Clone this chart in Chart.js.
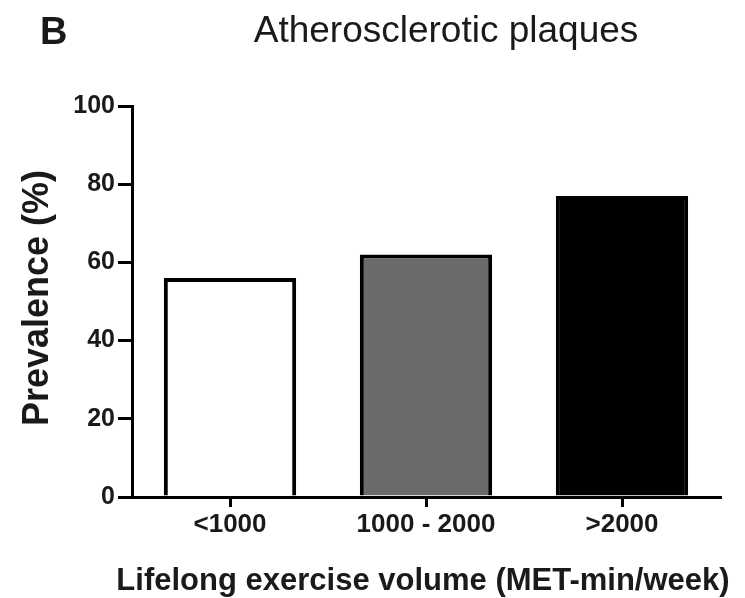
<!DOCTYPE html>
<html>
<head>
<meta charset="utf-8">
<script src="https://cdn.jsdelivr.net/npm/chart.js@4"></script>
<style>
  body { margin: 0; background: #fff; }
  #wrap { width: 745px; height: 598px; }
</style>
</head>
<body>
<div id="wrap"><canvas id="chart"></canvas></div>
<script>
// Data
const categories = ["<1000", "1000 - 2000", ">2000"];
const prevalence = [56, 62, 77];
const barColors = ["#ffffff", "#6b6b6b", "#000000"];
const yTicks = [0, 20, 40, 60, 80, 100];

const panelLabel = "B";
const chartTitle = "Atherosclerotic plaques";
const yTitle = "Prevalence (%)";
const xTitle = "Lifelong exercise volume (MET-min/week)";

const FONT = "'Liberation Sans', Arial, sans-serif";
const INK = "#1a1a1a";

// Texts drawn at fixed spots, like the figure
const labels = {
  id: "labels",
  afterDraw(chart) {
    const c = chart.ctx;
    c.save();
    c.fillStyle = INK;
    c.textBaseline = "alphabetic";

    c.font = "bold 38px " + FONT;
    c.textAlign = "left";
    c.fillText(panelLabel, 40, 44);

    c.font = "37px " + FONT;
    c.textAlign = "center";
    c.fillText(chartTitle, 446, 42);

    c.font = "bold 31px " + FONT;
    c.fillText(xTitle, 423, 590);

    c.translate(38, 298);
    c.rotate(-Math.PI / 2);
    c.font = "bold 36px " + FONT;
    c.textBaseline = "middle";
    c.fillText(yTitle, 0, 0);
    c.restore();
  }
};

new Chart(document.getElementById("chart"), {
  type: "bar",
  data: {
    labels: categories,
    datasets: [{
      data: prevalence,
      backgroundColor: barColors,
      borderColor: "#000",
      borderWidth: 4,
      barPercentage: 0.675,
      categoryPercentage: 1
    }]
  },
  options: {
    responsive: true,
    maintainAspectRatio: false,
    animation: false,
    layout: { padding: { top: 106, right: 25, left: 0, bottom: 0 } },
    plugins: { legend: { display: false }, tooltip: { enabled: false } },
    scales: {
      x: {
        z: 1,
        offset: true,
        grid: {
          offset: false,
          drawOnChartArea: false,
          drawTicks: true,
          tickLength: 10,
          color: "#000",
          lineWidth: 3
        },
        border: { display: true, color: "#000", width: 3 },
        ticks: {
          color: INK,
          font: { family: FONT, size: 26, weight: "bold" },
          padding: 2,
          maxRotation: 0,
          autoSkip: false
        },
        afterFit: s => { s.height = 101; }
      },
      y: {
        min: 0,
        max: 100,
        afterBuildTicks: s => { s.ticks = yTicks.map(v => ({ value: v })); },
        grid: {
          drawOnChartArea: false,
          drawTicks: true,
          tickLength: 14,
          color: "#000",
          lineWidth: 3
        },
        border: { display: true, color: "#000", width: 3 },
        ticks: {
          color: INK,
          font: { family: FONT, size: 25, weight: "bold" },
          padding: 3
        },
        afterFit: s => { s.width = 132; }
      }
    }
  },
  plugins: [labels]
});
</script>
</body>
</html>
